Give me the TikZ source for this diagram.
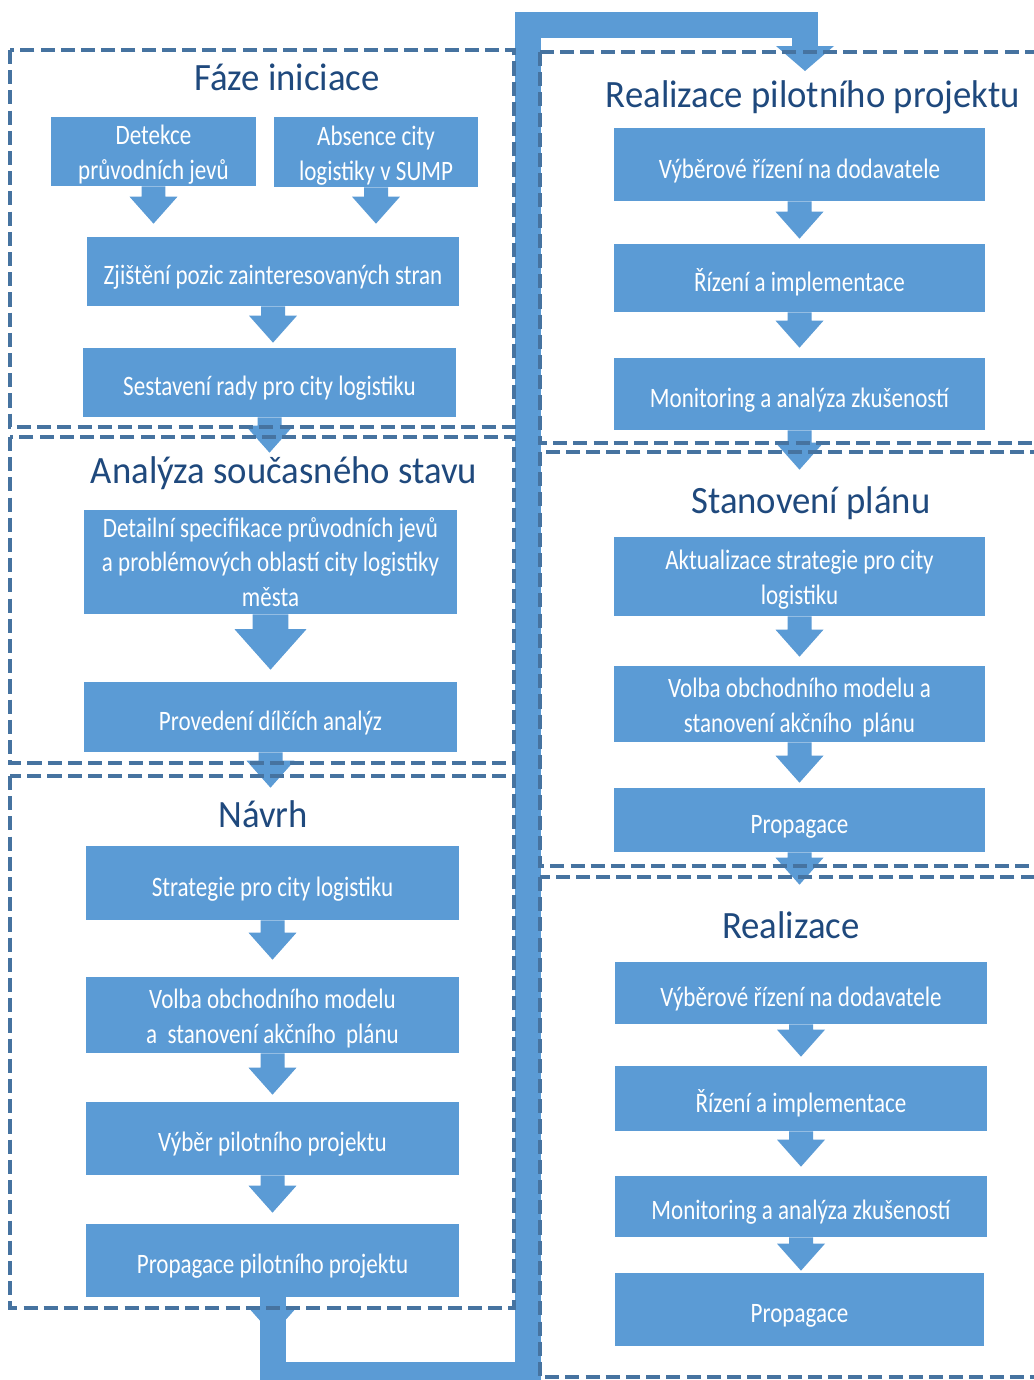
\documentclass[tikz,border=0pt]{standalone}
\usepackage{fontspec}
\newfontfamily\boxfont[FakeStretch=0.82]{Carlito}
\newfontfamily\headfont[FakeStretch=0.95]{Carlito}
\usetikzlibrary{calc}
\definecolor{boxblue}{RGB}{91,155,213}
\definecolor{dashblue}{RGB}{70,115,160}
\definecolor{headblue}{RGB}{31,73,125}
\newcommand{\topstrut}{\rule{0pt}{18pt}}
\newcommand{\firststrut}{\rule{0pt}{15pt}}
\newcommand{\flowarrow}[4][1]{%
  \fill[boxblue] let \p1=(#2.south), \p2=(#3.north) in
    (\x1-0.24cm*#1,\y1) -- (\x1-0.24cm*#1,\y2+#4*0.02cm+0.54cm*#1)
    -- (\x1-0.48cm*#1,\y2+#4*0.02cm+0.54cm*#1) -- (\x1,\y2+#4*0.02cm)
    -- (\x1+0.48cm*#1,\y2+#4*0.02cm+0.54cm*#1) -- (\x1+0.24cm*#1,\y2+#4*0.02cm+0.54cm*#1)
    -- (\x1+0.24cm*#1,\y1) -- cycle;}

\begin{document}
\begin{tikzpicture}[
    x=0.02cm, y=-0.02cm,
    box/.style={rectangle,fill=boxblue,text=white,align=center,inner sep=0pt,
      font=\boxfont\fontsize{16}{19.8}\selectfont,minimum width=7.46cm,
      execute at begin node={\topstrut}},
    smallbox/.style={box,minimum width=4.1cm},
    rbox/.style={box,minimum width=7.42cm},
    phase/.style={text=headblue,anchor=base,inner sep=0pt,
      font=\headfont\fontsize{22}{26}\selectfont},
    region/.style={draw=dashblue,line width=2.2pt,dash pattern=on 8pt off 3.5pt},
    band/.style={draw=boxblue,line width=0.52cm,line join=miter},
    pin/.style={inner sep=0pt,minimum size=0pt}
  ]
    \useasboundingbox (0,0) rectangle (1034,1380);
    \clip (0,0) rectangle (1034,1380);
    \fill[white] (0,0) rectangle (1034,1380);

    \node[phase] (t1) at (287,90) {Fáze iniciace};
    \node[smallbox,minimum height=1.38cm] (det) at (153.5,151.5) {\firststrut Detekce\\průvodních jevů};
    \node[smallbox,minimum width=4.08cm,minimum height=1.4cm] (abs) at (376,152) {\firststrut Absence city\\logistiky v SUMP};
    \node[box,minimum width=7.44cm,minimum height=1.38cm] (zji) at (273,271.5) {Zjištění pozic zainteresovaných stran};
    \node[box,minimum height=1.38cm] (ses) at (269.5,382.5) {Sestavení rady pro city logistiku};

    \node[phase] (t2) at (284,483) {Analýza současného stavu};
    \node[box,minimum height=2.08cm] (detail) at (270.5,562) {Detailní specifikace průvodních jevů\\a problémových oblastí city logistiky\\města};
    \node[box,minimum height=1.4cm] (prov) at (270.5,717) {Provedení dílčích analýz};

    \node[phase] (t3) at (263,827) {Návrh};
    \node[box,minimum height=1.48cm] (strat) at (272.5,883) {Strategie pro city logistiku};
    \node[box,minimum height=1.52cm] (volba) at (272.5,1015) {\firststrut Volba obchodního modelu\\a\ \ stanovení akčního\ \ plánu};
    \node[box,minimum height=1.46cm] (vyber) at (272.5,1138.5) {Výběr pilotního projektu};
    \node[box,minimum height=1.46cm] (propil) at (272.5,1260.5) {Propagace pilotního projektu};

    \node[phase] (t4) at (813,107) {Realizace pilotního projektu};
    \node[rbox,minimum height=1.46cm] (rp1) at (799.5,164.5) {Výběrové řízení na dodavatele};
    \node[rbox,minimum height=1.36cm] (rp2) at (799.5,278) {Řízení a implementace};
    \node[rbox,minimum height=1.44cm] (rp3) at (799.5,394) {Monitoring a analýza zkušeností};

    \node[phase] (t5) at (811,513) {Stanovení plánu};
    \node[rbox,minimum height=1.58cm] (sp1) at (799.5,576.5) {\firststrut Aktualizace strategie pro city\\logistiku};
    \node[rbox,minimum height=1.52cm] (sp2) at (799.5,704) {\firststrut Volba obchodního modelu a\\stanovení akčního\ \ plánu};
    \node[rbox,minimum height=1.28cm] (sp3) at (799.5,820) {Propagace};

    \node[phase] (t6) at (791,938) {Realizace};
    \node[rbox,minimum width=7.44cm,minimum height=1.24cm] (r1) at (801,993) {Výběrové řízení na dodavatele};
    \node[rbox,minimum width=7.44cm,minimum height=1.3cm] (r2) at (801,1098.5) {Řízení a implementace};
    \node[rbox,minimum width=7.44cm,minimum height=1.22cm] (r3) at (801,1206.5) {Monitoring a analýza zkušeností};
    \node[rbox,minimum width=7.38cm,minimum height=1.46cm] (r4) at (799.5,1309.5) {Propagace};

    \node[pin] (lowleft) at (272.5,1375) {};
    \coordinate (lowright) at (527.5,1375);
    \coordinate (topleft) at (527.5,25);
    \coordinate (headbase) at (805,46);
    \draw[band] (propil.south) -- (lowleft.center) -- (lowright) -- (topleft) -| (headbase);
    \fill[boxblue] (headbase) ++(-29,0) -- ++(58,0) -- ++(-29,25) -- cycle;

    \flowarrow{det}{zji}{13}
    \flowarrow{abs}{zji}{13}
    \flowarrow{zji}{ses}{5}
    \flowarrow{ses}{detail}{57}
    \flowarrow[1.5]{detail}{prov}{12}
    \flowarrow{prov}{strat}{58}
    \flowarrow{strat}{volba}{17}
    \flowarrow{volba}{vyber}{7}
    \flowarrow{vyber}{propil}{11}
    \flowarrow{propil}{lowleft}{40}
    \flowarrow{rp1}{rp2}{5}
    \flowarrow{rp2}{rp3}{10}
    \flowarrow{rp3}{sp1}{67}
    \flowarrow{sp1}{sp2}{9}
    \flowarrow{sp2}{sp3}{5}
    \flowarrow{sp3}{r1}{77}
    \flowarrow{r1}{r2}{9}
    \flowarrow{r2}{r3}{9}
    \flowarrow{r3}{r4}{2}

    \draw[region] (10,50) rectangle (514,427);
    \draw[region] (10,437) rectangle (514,763);
    \draw[region] (10,776) rectangle (514,1308);
    \draw[region] (540,52) rectangle (1045,443);
    \draw[region] (540,452) rectangle (1045,866);
    \draw[region] (540,877) rectangle (1045,1377);
  \end{tikzpicture}
\end{document}
